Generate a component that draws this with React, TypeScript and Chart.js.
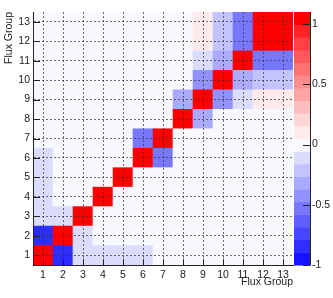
import { useEffect, useRef } from 'react';
import { Chart, registerables } from 'chart.js';

Chart.register(...registerables);

// Flux groups (categories on both axes)
const groups = ['1', '2', '3', '4', '5', '6', '7', '8', '9', '10', '11', '12', '13'];

// Correlation values, one row per y group (1 = bottom), columns = x groups 1..13
const row1 = [1, -0.85, -0.1, -0.1, -0.1, -0.1, 0, 0, 0, 0, 0, 0, 0];
const row2 = [-0.85, 1, -0.1, 0, 0, 0, 0, 0, 0, 0, 0, 0, 0];
const row3 = [-0.1, -0.1, 1, 0, 0, 0, 0, 0, 0, 0, 0, 0, 0];
const row4 = [-0.1, 0, 0, 1, 0, 0, 0, 0, 0, 0, 0, 0, 0];
const row5 = [-0.1, 0, 0, 0, 1, 0, 0, 0, 0, 0, 0, 0, 0];
const row6 = [-0.1, 0, 0, 0, 0, 1, -0.55, 0, 0, 0, 0, 0, 0];
const row7 = [0, 0, 0, 0, 0, -0.55, 1, 0, 0, 0, 0, 0, 0];
const row8 = [0, 0, 0, 0, 0, 0, 0, 1, -0.3, 0, 0, 0, 0];
const row9 = [0, 0, 0, 0, 0, 0, 0, -0.3, 1, -0.42, -0.12, 0.1, 0.1];
const row10 = [0, 0, 0, 0, 0, 0, 0, 0, -0.42, 1, -0.32, -0.22, -0.22];
const row11 = [0, 0, 0, 0, 0, 0, 0, 0, -0.12, -0.32, 1, -0.52, -0.52];
const row12 = [0, 0, 0, 0, 0, 0, 0, 0, 0.1, -0.22, -0.52, 1, 0.998];
const row13 = [0, 0, 0, 0, 0, 0, 0, 0, 0.1, -0.22, -0.52, 0.998, 1];
const rows = [row1, row2, row3, row4, row5, row6, row7, row8, row9, row10, row11, row12, row13];

// Colour scale
const zTicks = [-1, -0.5, 0, 0.5, 1];
const zMin = -1;
const zMax = 1.1;
const nBands = 20;
const bandColors = [
  '#1414ff', '#2d2dff', '#4646ff', '#6060ff', '#7878ff',
  '#9191ff', '#aaaaff', '#c3c3ff', '#dcdcff', '#f8f8ff',
  '#ffebeb', '#ffd6d6', '#ffbebe', '#ffa5a5', '#ff8c8c',
  '#ff7373', '#ff5a5a', '#ff4141', '#ff2323', '#ff0000',
];

const FONT = "'Liberation Sans', Arial, Helvetica, sans-serif";

function colorFor(v: number): string {
  const step = (zMax - zMin) / nBands;
  let k = Math.floor((v - zMin) / step + 1e-9);
  if (k < 0) k = 0;
  if (k > nBands - 1) k = nBands - 1;
  return bandColors[k];
}

function noPad(s: any) {
  s.paddingTop = 0;
  s.paddingBottom = 0;
  s.paddingLeft = 0;
  s.paddingRight = 0;
}

const decor = {
  id: 'decor',
  afterDraw(chart: any) {
    const { ctx, chartArea: ca, scales } = chart;
    const z = scales.z;
    const x0 = ca.right + 1;
    const x1 = ca.right + 17;
    const step = (zMax - zMin) / nBands;
    ctx.save();
    for (let k = 0; k < nBands; k++) {
      const yTop = z.getPixelForValue(zMin + (k + 1) * step);
      const yBot = z.getPixelForValue(zMin + k * step);
      ctx.fillStyle = bandColors[k];
      ctx.fillRect(x0, yTop, x1 - x0, yBot - yTop + 0.5);
    }
    ctx.strokeStyle = '#222';
    ctx.lineWidth = 1;
    ctx.beginPath();
    ctx.moveTo(x1 + 0.5, z.top);
    ctx.lineTo(x1 + 0.5, z.bottom);
    for (const t of zTicks) {
      const y = Math.round(z.getPixelForValue(t)) + 0.5;
      ctx.moveTo(x1 - 7, y);
      ctx.lineTo(x1 + 0.5, y);
    }
    const ys = scales.y;
    ys.ticks.forEach((_t: any, i: number) => {
      const y = Math.round(ys.getPixelForTick(i)) + 0.5;
      ctx.moveTo(ca.left, y);
      ctx.lineTo(ca.left + 7, y);
    });
    const xs = scales.x;
    xs.ticks.forEach((_t: any, i: number) => {
      const x = Math.round(xs.getPixelForTick(i)) + 0.5;
      ctx.moveTo(x, ca.bottom);
      ctx.lineTo(x, ca.bottom - 6);
    });
    ctx.stroke();
    ctx.restore();
  },
};

export default function App() {
  const ref = useRef<HTMLCanvasElement | null>(null);

  useEffect(() => {
    if (!ref.current) return;
    Chart.defaults.font.family = FONT;
    const tickFont = { family: FONT, size: 10.5 };
    const titleFont = { family: FONT, size: 10.5 };
    const gridColor = 'rgba(50,50,50,0.7)';

    const chart = new Chart(ref.current, {
      type: 'bar',
      data: {
        labels: groups,
        datasets: rows.map((r, j) => ({
          label: 'row ' + groups[j],
          data: r.map(() => [j + 0.5, j + 1.5] as [number, number]),
          backgroundColor: r.map(colorFor),
          borderWidth: 0,
          barPercentage: 1,
          categoryPercentage: 1,
          grouped: false,
          xAxisID: 'x',
          yAxisID: 'y',
        })),
      },
      plugins: [decor],
      options: {
        responsive: false,
        animation: false,
        devicePixelRatio: 1,
        events: [],
        layout: { autoPadding: false, padding: { top: 12, left: 0, right: 0, bottom: 0 } },
        plugins: {
          legend: { display: false },
          tooltip: { enabled: false },
        },
        scales: {
          x: {
            type: 'category',
            offset: true,
            grid: { offset: false, color: gridColor, lineWidth: 1, z: 1, drawTicks: false },
            border: { display: true, color: '#222', width: 1, dash: [2, 2], z: 2 },
            ticks: { font: tickFont, color: '#222', padding: 4, maxRotation: 0, autoSkip: false },
            title: {
              display: true,
              text: 'Flux Group',
              align: 'end',
              font: titleFont,
              color: '#222',
              padding: { top: 0, bottom: 10 },
            },
            afterFit: (s: any) => {
              s.height = 33;
              noPad(s);
            },
          },
          y: {
            type: 'linear',
            position: 'left',
            min: 0.5,
            max: 13.5,
            afterBuildTicks: (s: any) => {
              s.ticks = groups.map((_g, i) => ({ value: i + 1 }));
            },
            grid: { color: gridColor, lineWidth: 1, z: 1, drawTicks: false },
            border: { display: true, color: '#222', width: 1, dash: [2, 2], z: 2 },
            ticks: {
              font: tickFont,
              color: '#222',
              padding: 3,
              callback: (v: any) => groups[Number(v) - 1] ?? '',
            },
            title: {
              display: true,
              text: 'Flux Group',
              align: 'end',
              font: titleFont,
              color: '#222',
              padding: { top: 3, bottom: 0 },
            },
            afterFit: (s: any) => {
              s.width = 33;
              noPad(s);
            },
          },
          z: {
            type: 'linear',
            position: 'right',
            min: zMin,
            max: zMax,
            afterBuildTicks: (s: any) => {
              s.ticks = zTicks.map((v) => ({ value: v }));
            },
            grid: { display: false, drawTicks: false },
            border: { display: false },
            ticks: {
              font: tickFont,
              color: '#222',
              padding: 19,
              callback: (v: any) => String(v),
            },
            afterFit: (s: any) => {
              s.width = 40;
              noPad(s);
            },
          },
        },
      } as any,
    });
    return () => chart.destroy();
  }, []);

  return (
    <div style={{ position: 'absolute', left: 0, top: 0, width: 333, height: 298, background: '#fff' }}>
      <canvas ref={ref} width={333} height={298} style={{ width: 333, height: 298, display: 'block' }} />
    </div>
  );
}
